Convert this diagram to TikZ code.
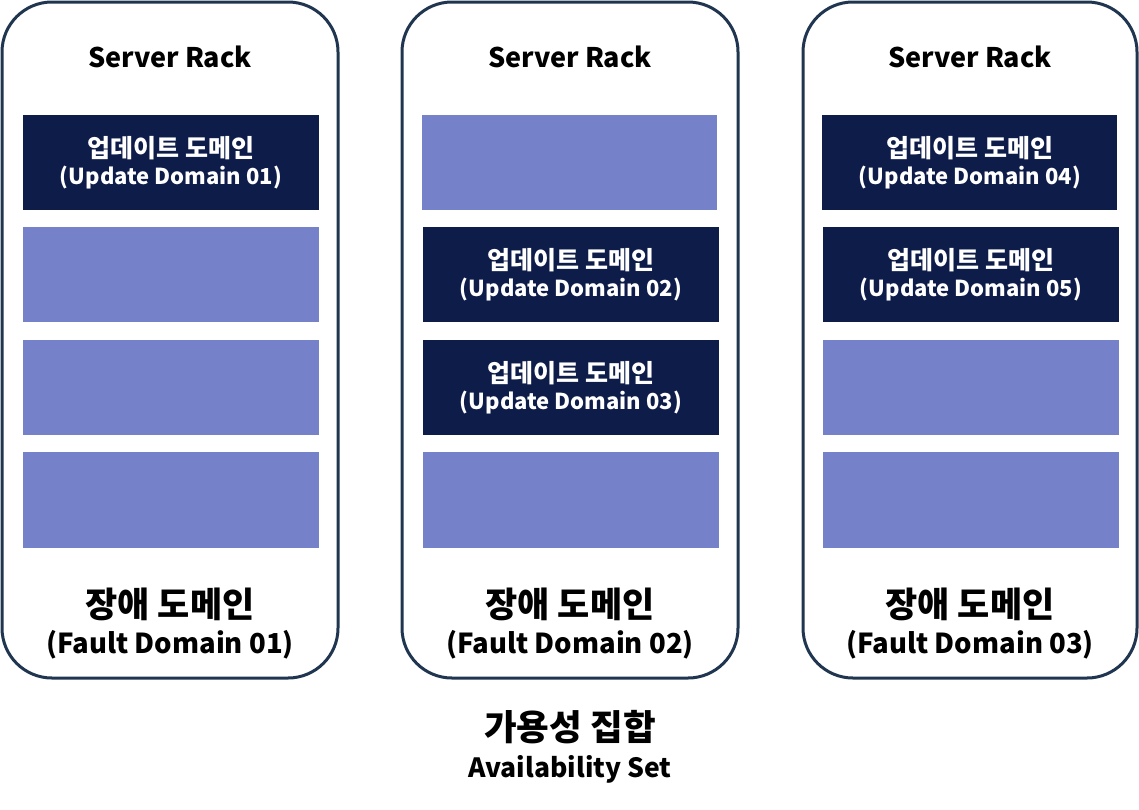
\documentclass[tikz,border=0pt]{standalone}
\usepackage{fontspec}
\setmainfont{Noto Sans CJK KR}
\definecolor{rackline}{HTML}{1F3550}
\definecolor{udark}{HTML}{0E1C4A}
\definecolor{ulight}{HTML}{7581C8}
\begin{document}
\begin{tikzpicture}[x=1pt,y=-1pt,
  rack/.style={draw=rackline,line width=3pt,rounded corners=50pt,fill=white},
  udk/.style={text=white,inner sep=0pt,font=\bfseries\fontsize{25}{30}\selectfont},
  udl/.style={text=white,inner sep=0pt,font=\bfseries\fontsize{22}{26}\selectfont},
  title/.style={inner sep=0pt,font=\bfseries\fontsize{27}{32}\selectfont},
  fdk/.style={inner sep=0pt,font=\bfseries\fontsize{35}{40}\selectfont},
  fdl/.style={inner sep=0pt,font=\bfseries\fontsize{27.5}{32}\selectfont},
  avk/.style={inner sep=0pt,font=\bfseries\fontsize{35.5}{40}\selectfont},
  avl/.style={inner sep=0pt,font=\bfseries\fontsize{26.5}{32}\selectfont}]
\useasboundingbox (0,0) rectangle (1139,809);
% racks
\draw[rack] (2,2) rectangle (338,678);
\draw[rack] (402,2) rectangle (738,678);
\draw[rack] (803,2) rectangle (1137,678);
\node[title] (t1) at (170,57) {Server Rack};
\node[title] (t2) at (570,57) {Server Rack};
\node[title] (t3) at (970,57) {Server Rack};
% rack 1
\fill[udark] (23,115) rectangle (319,210);
\node[udk] (u1k) at (171,148) {업데이트 도메인};
\node[udl] (u1l) at (171,178) {(Update Domain 01)};
\fill[ulight] (23,227) rectangle (319,322);
\fill[ulight] (23,340) rectangle (319,435);
\fill[ulight] (23,452) rectangle (319,548);
% rack 2
\fill[ulight] (422,115) rectangle (717,210);
\fill[udark] (423,227) rectangle (719,322);
\node[udk] (u2k) at (571,260) {업데이트 도메인};
\node[udl] (u2l) at (571,290) {(Update Domain 02)};
\fill[udark] (423,340) rectangle (719,435);
\node[udk] (u3k) at (571,373) {업데이트 도메인};
\node[udl] (u3l) at (571,403) {(Update Domain 03)};
\fill[ulight] (423,452) rectangle (719,548);
% rack 3
\fill[udark] (822,115) rectangle (1117,210);
\node[udk] (u4k) at (970,148) {업데이트 도메인};
\node[udl] (u4l) at (970,178) {(Update Domain 04)};
\fill[udark] (823,227) rectangle (1119,322);
\node[udk] (u5k) at (971,260) {업데이트 도메인};
\node[udl] (u5l) at (971,290) {(Update Domain 05)};
\fill[ulight] (823,340) rectangle (1119,435);
\fill[ulight] (823,452) rectangle (1119,548);
% fault domains
\node[fdk] (f1k) at (170,604) {장애 도메인};
\node[fdl] (f1l) at (170,645) {(Fault Domain 01)};
\node[fdk] (f2k) at (570,604) {장애 도메인};
\node[fdl] (f2l) at (570,645) {(Fault Domain 02)};
\node[fdk] (f3k) at (970,604) {장애 도메인};
\node[fdl] (f3l) at (970,645) {(Fault Domain 03)};
% availability set
\node[avk] (ask) at (570,727) {가용성 집합};
\node[avl] (asl) at (570,769) {Availability Set};
\end{tikzpicture}
\end{document}
